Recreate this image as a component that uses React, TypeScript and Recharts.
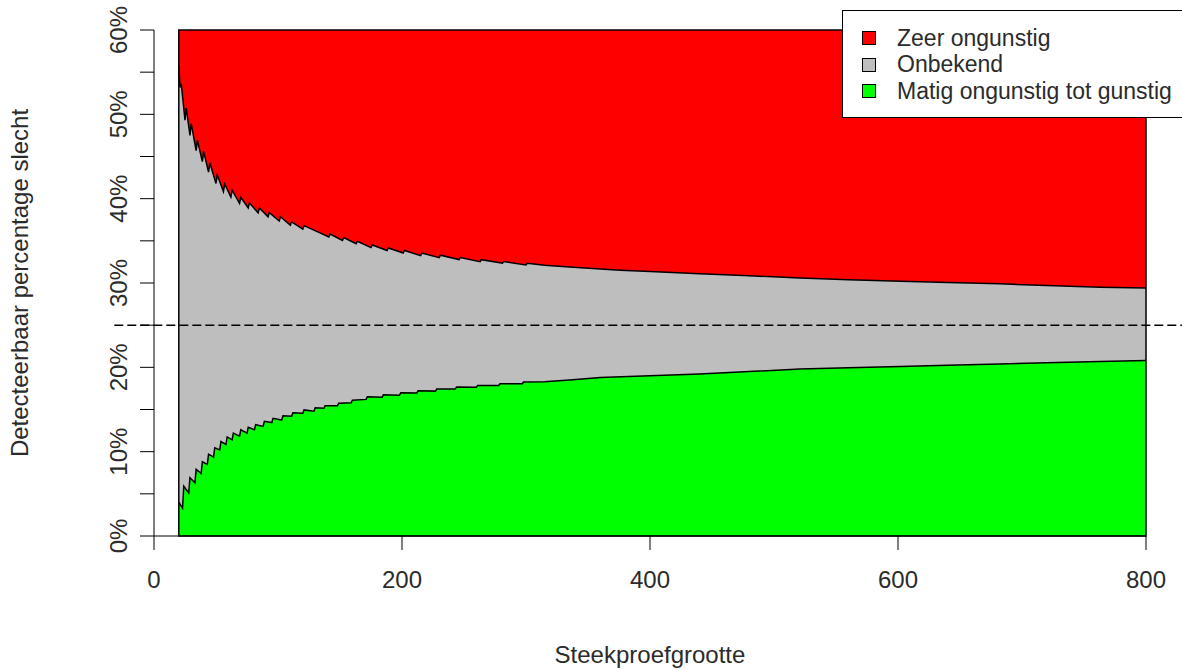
import React from 'react';
import {
  ComposedChart,
  Area,
  XAxis,
  YAxis,
  ReferenceLine,
  ReferenceArea,
  Legend,
  Label,
} from 'recharts';

// sample size (n) and detectable upper bound (%)
const upperN = [
  20, 21, 22, 25, 26, 29, 30, 34, 35, 39, 40, 44, 45, 50, 51, 56, 57, 62, 63,
  69, 70, 76, 77, 84, 85, 92, 93, 101, 102, 110, 111, 120, 121, 133, 141, 142,
  152, 153, 163, 164, 175, 176, 188, 189, 201, 202, 215, 216, 230, 231, 246,
  247, 263, 264, 281, 282, 300, 301, 315, 335, 360, 376, 400, 440, 480, 521,
  560, 602, 640, 682, 720, 763, 800,
];
const upperPct = [
  55.8, 53.2, 53.6, 49.3, 50.75, 47.5, 48.9, 45.7, 46.95, 44.4, 45.6, 43.15,
  44.25, 41.8, 42.8, 40.85, 41.75, 40.2, 41.0, 39.45, 40.15, 38.9, 39.5, 38.3,
  38.9, 37.85, 38.35, 37.35, 37.85, 36.85, 37.25, 36.4, 36.8, 36.0, 35.45, 35.8,
  35.05, 35.4, 34.65, 34.95, 34.2, 34.5, 33.85, 34.15, 33.55, 33.85, 33.25,
  33.55, 33.0, 33.3, 32.78, 33.02, 32.53, 32.77, 32.35, 32.55, 32.15, 32.35,
  32.1, 31.9, 31.65, 31.5, 31.35, 31.1, 30.85, 30.6, 30.4, 30.2, 30.05, 29.9,
  29.7, 29.5, 29.4,
];

// sample size (n) and detectable lower bound (%)
const lowerN = [
  20, 23, 24, 28, 29, 33, 34, 38, 39, 43, 44, 48, 49, 53, 54, 58, 59, 63, 64,
  69, 70, 75, 76, 81, 82, 88, 89, 95, 96, 103, 104, 111, 112, 120, 121, 129,
  130, 137, 138, 148, 149, 159, 160, 171, 172, 184, 185, 198, 199, 212, 213,
  227, 228, 243, 244, 260, 261, 278, 279, 297, 298, 315, 335, 360, 400, 440,
  480, 521, 560, 602, 640, 682, 720, 763, 800,
];
const lowerPct = [
  4.0, 3.3, 5.9, 5.1, 6.9, 6.3, 7.9, 7.4, 8.8, 8.5, 9.7, 9.35, 10.45, 10.2,
  11.2, 10.85, 11.75, 11.4, 12.2, 11.85, 12.6, 12.2, 12.9, 12.6, 13.2, 13.0,
  13.6, 13.45, 13.95, 13.75, 14.25, 14.2, 14.6, 14.55, 14.95, 14.8, 15.2, 15.15,
  15.45, 15.45, 15.75, 15.8, 16.1, 16.2, 16.5, 16.45, 16.75, 16.7, 16.98,
  16.97, 17.23, 17.18, 17.42, 17.43, 17.67, 17.64, 17.86, 17.85, 18.05, 18.05,
  18.25, 18.3, 18.5, 18.8, 19.0, 19.2, 19.5, 19.8, 19.95, 20.1, 20.25, 20.4,
  20.55, 20.7, 20.8,
];

const xTicks = [0, 200, 400, 600, 800];
const yTicks = [0, 5, 10, 15, 20, 25, 30, 35, 40, 45, 50, 55, 60];
const threshold = 25;

const legendItems = [
  { label: 'Zeer ongunstig', color: '#ff0000' },
  { label: 'Onbekend', color: '#bebebe' },
  { label: 'Matig ongunstig tot gunstig', color: '#00ff00' },
];

const FONT = '"Liberation Sans", Arial, sans-serif';
const TEXT = '#2b2b2b';

const upperData = upperN.map((n, i) => ({ n, pct: upperPct[i] }));
const lowerData = lowerN.map((n, i) => ({ n, pct: lowerPct[i] }));

const PctTick = (props: any) => {
  const { x, y, payload } = props;
  if (payload.value % 10 !== 0) return <g />;
  return (
    <text
      x={x}
      y={y}
      transform={`rotate(-90 ${x} ${y})`}
      textAnchor="middle"
      fontSize={24}
      fontFamily={FONT}
      fill={TEXT}
    >
      {payload.value}%
    </text>
  );
};

const LegendBox = () => (
  <div
    style={{
      background: '#fff',
      border: '1px solid #000',
      padding: '14px 0 12px 19px',
      fontFamily: FONT,
      fontSize: 23,
      color: TEXT,
      boxSizing: 'border-box',
      width: 350,
    }}
  >
    {legendItems.map((item) => (
      <div
        key={item.label}
        style={{ display: 'flex', alignItems: 'center', height: 26.5, whiteSpace: 'nowrap' }}
      >
        <span
          style={{
            display: 'inline-block',
            width: 12,
            height: 12,
            background: item.color,
            border: '1px solid #000',
            marginRight: 21,
          }}
        />
        {item.label}
      </div>
    ))}
  </div>
);

export default function App() {
  return (
    <div style={{ position: 'absolute', left: 0, top: 0, width: 1182, height: 670, background: '#fff', overflow: 'hidden' }}>
      <ComposedChart
        width={1182}
        height={670}
        margin={{ top: 30, right: 36, bottom: 0, left: 0 }}
      >
        <XAxis
          type="number"
          dataKey="n"
          domain={[0, 800]}
          ticks={xTicks}
          interval={0}
          height={134}
          tickSize={14}
          tickMargin={21}
          stroke="#000"
          tick={{ fontSize: 24, fontFamily: FONT, fill: TEXT }}
        >
          <Label
            content={({ viewBox }: any) => (
              <text
                x={viewBox.x + viewBox.width / 2}
                y={663}
                textAnchor="middle"
                fontSize={24}
                fontFamily={FONT}
                fill={TEXT}
              >
                Steekproefgrootte
              </text>
            )}
          />
        </XAxis>
        <YAxis
          type="number"
          domain={[0, 60]}
          ticks={yTicks}
          interval={0}
          width={154}
          tickSize={14}
          tickMargin={13}
          stroke="#000"
          tick={<PctTick />}
        >
          <Label
            content={({ viewBox }: any) => {
              const cx = 28;
              const cy = viewBox.y + viewBox.height / 2;
              return (
                <text
                  x={cx}
                  y={cy}
                  transform={`rotate(-90 ${cx} ${cy})`}
                  textAnchor="middle"
                  fontSize={24}
                  fontFamily={FONT}
                  fill={TEXT}
                >
                  Detecteerbaar percentage slecht
                </text>
              );
            }}
          />
        </YAxis>
        <Area
          data={upperData}
          dataKey="pct"
          type="linear"
          baseValue={60}
          fill="#ff0000"
          fillOpacity={1}
          stroke="none"
          isAnimationActive={false}
        />
        <Area
          data={upperData}
          dataKey="pct"
          type="linear"
          baseValue={0}
          fill="#bebebe"
          fillOpacity={1}
          stroke="#000"
          strokeWidth={1.5}
          isAnimationActive={false}
        />
        <Area
          data={lowerData}
          dataKey="pct"
          type="linear"
          baseValue={0}
          fill="#00ff00"
          fillOpacity={1}
          stroke="#000"
          strokeWidth={1.5}
          isAnimationActive={false}
        />
        <ReferenceArea
          x1={20}
          x2={800}
          y1={0}
          y2={60}
          fill="none"
          fillOpacity={0}
          stroke="#000"
          strokeWidth={1.5}
          zIndex={900}
        />
        <ReferenceLine
          segment={[
            { x: -32, y: threshold },
            { x: 832, y: threshold },
          ]}
          ifOverflow="visible"
          stroke="#000"
          strokeWidth={1.5}
          strokeDasharray="9 4"
          zIndex={950}
        />
        <Legend
          layout="vertical"
          align="center"
          verticalAlign="middle"
          content={() => <LegendBox />}
          wrapperStyle={{ position: 'absolute', left: 842, top: 10, width: 350 }}
        />
      </ComposedChart>
    </div>
  );
}
